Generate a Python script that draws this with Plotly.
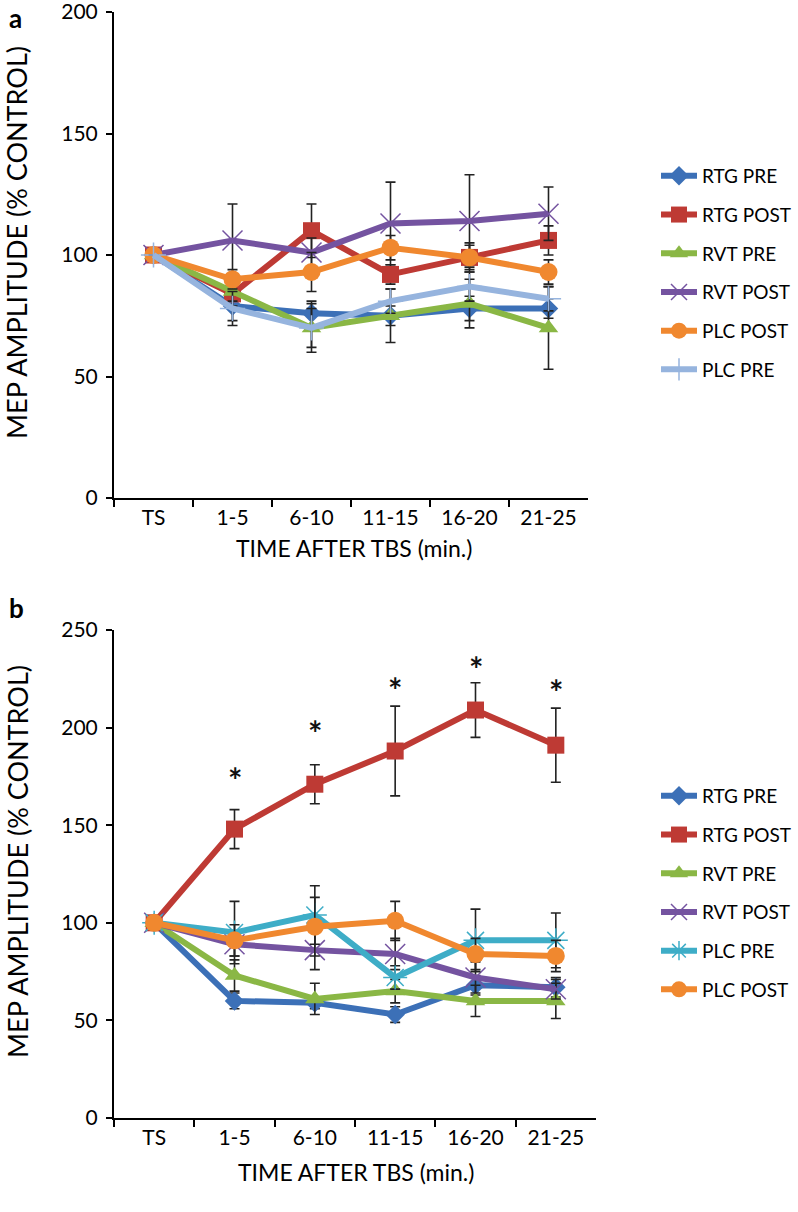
import plotly.graph_objects as go

categories = ["TS", "1-5", "6-10", "11-15", "16-20", "21-25"]

# Panel a values (% control)
a_names = ["RTG PRE", "RTG POST", "RVT PRE", "RVT POST", "PLC POST", "PLC PRE"]
a_rtg_pre = [100, 79, 76, 75, 78, 78]
a_rtg_post = [100, 84, 110, 92, 99, 106]
a_rvt_pre = [100, 85, 70, 75, 80, 70]
a_rvt_post = [100, 106, 101, 113, 114, 117]
a_plc_post = [100, 90, 93, 103, 99, 93]
a_plc_pre = [100, 78, 70, 81, 87, 82]

a_rtg_pre_err = [None, 6, 5, 4, 5, 4]
a_rtg_post_err = [None, 5, 11, 4, 6, 6]
a_rvt_pre_err = [None, 4, 10, 11, 10, 17]
a_rvt_post_err = [None, 15, 6, 17, 19, 11]
a_plc_post_err = [None, 4, 8, 5, 5, 5]
a_plc_pre_err = [None, 7, 8, 5, 6, 5]

# Panel b values (% control)
b_names = ["RTG PRE", "RTG POST", "RVT PRE", "RVT POST", "PLC PRE", "PLC POST"]
b_rtg_pre = [100, 60, 59, 53, 68, 67]
b_rtg_post = [100, 148, 171, 188, 209, 191]
b_rvt_pre = [100, 73, 61, 65, 60, 60]
b_rvt_post = [100, 89, 86, 84, 72, 66]
b_plc_pre = [100, 95, 104, 72, 91, 91]
b_plc_post = [100, 91, 98, 101, 84, 83]

b_rtg_pre_err = [None, 4, 3, 4, 5, 5]
b_rtg_post_err = [None, 10, 10, 23, 14, 19]
b_rvt_pre_err = [None, 8, 8, 6, 8, 9]
b_rvt_post_err = [None, 6, 10, 8, 8, 5]
b_plc_pre_err = [None, 16, 15, 6, 16, 14]
b_plc_post_err = [None, 8, 15, 10, 8, 8]

star_x = ["1-5", "6-10", "11-15", "16-20", "21-25"]
star_y = [178, 202, 224, 235, 223]

FONT = "Lato"
C_BLUE = "#3C70B7"
C_RED = "#BE3A34"
C_GREEN = "#8AB745"
C_PURPLE = "#7453A0"
C_ORANGE = "#F0882F"
C_LBLUE = "#96B4DE"
C_CYAN = "#3EADC7"

styles = {
    "RTG PRE": dict(color=C_BLUE, symbol="diamond", size=15),
    "RTG POST": dict(color=C_RED, symbol="square", size=17),
    "RVT PRE": dict(color=C_GREEN, symbol="triangle-up", size=17),
    "RVT POST": dict(color=C_PURPLE, symbol="x-thin-open", size=20),
    "PLC POST": dict(color=C_ORANGE, symbol="circle", size=18),
}

fig = go.Figure()


def add_series(name, y, err, xaxis, yaxis, legend, style):
    open_sym = style["symbol"].endswith("open")
    marker = dict(symbol=style["symbol"], size=style["size"], color=style["color"])
    if open_sym:
        marker["line"] = dict(color=style["color"], width=1.5)
    fig.add_trace(go.Scatter(
        x=categories, y=y, name=name, mode="lines+markers",
        line=dict(color=style["color"], width=6),
        marker=marker,
        error_y=dict(type="data", array=err, symmetric=True, color="#222222",
                     thickness=1.6, width=5),
        xaxis=xaxis, yaxis=yaxis, legend=legend, legendgroup=legend + name,
    ))


a_vals = [a_rtg_pre, a_rtg_post, a_rvt_pre, a_rvt_post, a_plc_post, a_plc_pre]
a_errs = [a_rtg_pre_err, a_rtg_post_err, a_rvt_pre_err, a_rvt_post_err, a_plc_post_err, a_plc_pre_err]
for name, y, e in zip(a_names, a_vals, a_errs):
    st = styles.get(name, dict(color=C_LBLUE, symbol="cross-thin-open", size=18))
    add_series(name, y, e, "x", "y", "legend", st)

b_vals = [b_rtg_pre, b_rtg_post, b_rvt_pre, b_rvt_post, b_plc_pre, b_plc_post]
b_errs = [b_rtg_pre_err, b_rtg_post_err, b_rvt_pre_err, b_rvt_post_err, b_plc_pre_err, b_plc_post_err]
for name, y, e in zip(b_names, b_vals, b_errs):
    st = styles.get(name, dict(color=C_CYAN, symbol="asterisk-open", size=20))
    add_series(name, y, e, "x2", "y2", "legend2", st)

W, H = 798, 1212


def px_x(p):
    return p / W


def px_y(p):
    return 1 - p / H


xaxis_common = dict(
    type="category", categoryorder="array", categoryarray=categories,
    range=[-0.5, 5.5], tickson="boundaries", ticks="outside", ticklen=7,
    tickwidth=2, tickcolor="black", showline=True, linecolor="black",
    linewidth=2, showgrid=False, zeroline=False, automargin=False,
    ticklabeloverflow="allow",
    tickfont=dict(family=FONT, size=21, color="black"),
)
yaxis_common = dict(
    ticks="outside", ticklen=6, tickwidth=2, tickcolor="black",
    showline=True, linecolor="black", linewidth=2, showgrid=False,
    zeroline=False, dtick=50, ticklabelstandoff=4, automargin=False,
    ticklabeloverflow="allow",
    tickfont=dict(family=FONT, size=21, color="black"),
)

legend_common = dict(
    font=dict(family=FONT, size=19, color="black"),
    bgcolor="rgba(0,0,0,0)", tracegroupgap=11, itemwidth=36,
    xanchor="left", yanchor="top",
)

fig.update_layout(
    width=W, height=H,
    margin=dict(l=0, r=0, t=0, b=0, autoexpand=False),
    paper_bgcolor="white", plot_bgcolor="white",
    font=dict(family=FONT, color="black"),
    xaxis=dict(xaxis_common, domain=[px_x(114), px_x(588)], anchor="y"),
    yaxis=dict(yaxis_common, domain=[px_y(498), px_y(12)], range=[0, 200], anchor="x"),
    xaxis2=dict(xaxis_common, domain=[px_x(114), px_x(596)], anchor="y2"),
    yaxis2=dict(yaxis_common, domain=[px_y(1118), px_y(630)], range=[0, 250], anchor="x2"),
    legend=dict(legend_common, x=px_x(656), y=px_y(157)),
    legend2=dict(legend_common, x=px_x(656), y=px_y(777)),
    showlegend=True,
)

for sx, sy in zip(star_x, star_y):
    fig.add_annotation(
        x=sx, y=sy, xref="x2", yref="y2", text="<b>*</b>", showarrow=False,
        yshift=-9, font=dict(family=FONT, size=34, color="#111111"),
    )

ann = [
    dict(text="<b>a</b>", x=px_x(7), y=px_y(0), xanchor="left", yanchor="top", font_size=26),
    dict(text="<b>b</b>", x=px_x(7), y=px_y(590), xanchor="left", yanchor="top", font_size=26),
    dict(text="MEP AMPLITUDE (% CONTROL)", x=px_x(17), y=px_y(243), textangle=-90,
         xanchor="center", yanchor="middle", font_size=27),
    dict(text="MEP AMPLITUDE (% CONTROL)", x=px_x(17), y=px_y(862), textangle=-90,
         xanchor="center", yanchor="middle", font_size=27),
    dict(text="TIME AFTER TBS (min.)", x=px_x(354), y=px_y(548),
         xanchor="center", yanchor="middle", font_size=23),
    dict(text="TIME AFTER TBS (min.)", x=px_x(356), y=px_y(1172),
         xanchor="center", yanchor="middle", font_size=23),
]
for a in ann:
    a.update(xref="paper", yref="paper", showarrow=False)
    a["font"] = dict(family=FONT, size=a.pop("font_size"), color="black")
    fig.add_annotation(**a)

# remove the default 8px page margin so the figure fills the window exactly
fig.write_html("out.html", config={"displayModeBar": False},
               post_script="document.body.style.margin='0';")
